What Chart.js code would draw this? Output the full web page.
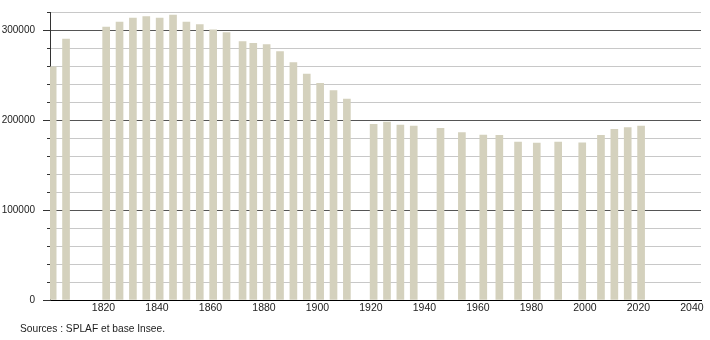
<!DOCTYPE html>
<html>
<head>
<meta charset="utf-8">
<script src="https://cdn.jsdelivr.net/npm/chart.js@4.4.1/dist/chart.umd.min.js"></script>
<style>
  body { margin: 0; background: #fff; }
  .wrap { position: relative; width: 710px; height: 340px; }
  .source {
    position: absolute; left: 20px; top: 323px;
    font: 10.2px "Liberation Sans", Arial, sans-serif; color: #222;
  }
</style>
</head>
<body>
<div class="wrap">
  <canvas id="myChart" width="710" height="340"></canvas>
  <div class="source">Sources : SPLAF et base Insee.</div>
</div>
<script>
const years = [1801, 1806, 1821, 1826, 1831, 1836, 1841, 1846, 1851, 1856, 1861, 1866,
  1872, 1876, 1881, 1886, 1891, 1896, 1901, 1906, 1911, 1921, 1926, 1931, 1936,
  1946, 1954, 1962, 1968, 1975, 1982, 1990, 1999, 2006, 2011, 2016, 2021]
const population = [259200, 290000, 303300, 308900, 313300, 314800, 313300, 316700, 308900, 306000, 300300, 297000,
  287000, 285200, 283700, 275900, 263700, 251100, 240700, 232600, 223300, 195200, 197800, 194400, 193300,
  190700, 185900, 183300, 183000, 175500, 174400, 175500, 174500, 182900, 189600, 191500, 193300]
const yearTicks = [1820, 1840, 1860, 1880, 1900, 1920, 1940, 1960, 1980, 2000, 2020, 2040]
const popLabels = [0, 100000, 200000, 300000]

const fontFamily = '"Liberation Sans", Arial, sans-serif'

// longer tick marks at the labelled values
const majorTicks = {
  id: 'majorTicks',
  afterDraw(chart) {
    const y = chart.scales.y
    const c = chart.ctx
    c.save()
    c.strokeStyle = '#333'
    c.lineWidth = 1
    popLabels.forEach(v => {
      const py = Math.round(y.getPixelForValue(v)) + 0.5
      c.beginPath()
      c.moveTo(y.right - 7, py)
      c.lineTo(y.right, py)
      c.stroke()
    })
    c.restore()
  }
}

const ctx = document.getElementById('myChart')
new Chart(ctx, {
  type: 'bar',
  data: {
    datasets: [{
      data: years.map((y, i) => ({ x: y, y: population[i] })),
      backgroundColor: '#d4d1bd',
      barThickness: 7
    }]
  },
  options: {
    responsive: false,
    animation: false,
    layout: { padding: { top: 12, right: 9, left: 0, bottom: 0 } },
    plugins: { legend: { display: false }, tooltip: { enabled: false } },
    scales: {
      x: {
        type: 'linear',
        offset: false,
        min: 1800,
        max: 2043.4,
        afterFit: s => { s.height = 40; s.paddingLeft = 0; s.paddingRight = 0 },
        grid: { display: false },
        border: { color: '#000', width: 1 },
        ticks: {
          stepSize: 20,
          includeBounds: false,
          autoSkip: false,
          maxRotation: 0,
          padding: -6,
          color: '#222',
          font: { family: fontFamily, size: 10.5 },
          callback: v => yearTicks.includes(v) ? String(v) : ''
        }
      },
      y: {
        min: 0,
        max: 320000,
        afterFit: s => { s.width = 50; s.paddingTop = 0; s.paddingBottom = 0 },
        border: { color: '#333', width: 1 },
        grid: {
          color: c => c.tick && c.tick.value % 100000 === 0 ? '#555' : '#c8c8c8',
          tickColor: '#333',
          tickLength: 3
        },
        ticks: {
          stepSize: 20000,
          autoSkip: false,
          padding: 12,
          color: '#222',
          font: { family: fontFamily, size: 10 },
          callback: v => popLabels.includes(v) ? String(v) : ''
        }
      }
    }
  },
  plugins: [majorTicks]
})
</script>
</body>
</html>
